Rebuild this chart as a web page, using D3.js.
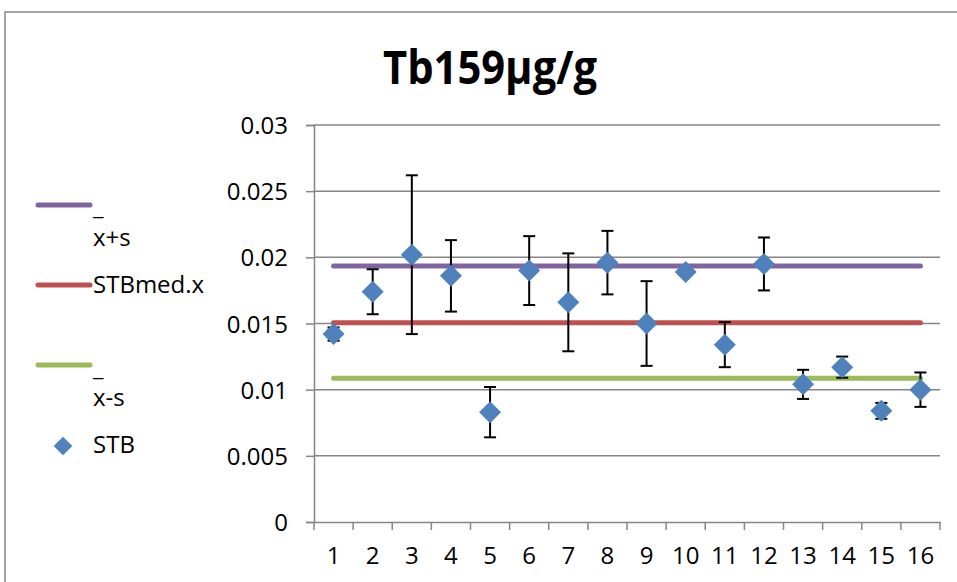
<!DOCTYPE html>
<html>
<head>
<meta charset="utf-8">
<script src="https://cdn.jsdelivr.net/npm/d3@7"></script>
<style>
  html, body { margin: 0; padding: 0; background: #fff; }
  svg { display: block; }
  svg text { font-family: "Liberation Sans Narrow", "Open Sans", "Liberation Sans", sans-serif; }
</style>
</head>
<body>
<svg id="chart" width="957" height="582"></svg>
<script>
// Sample numbers 1..16
const categories = d3.range(1, 17).map(String);
// STB measured values (µg/g) and their standard deviations
const stbValues = [0.0142, 0.0174, 0.0202, 0.0186, 0.0083, 0.0190, 0.0166, 0.0196,
                   0.0150, 0.0189, 0.0134, 0.0195, 0.0104, 0.0117, 0.0084, 0.0100];
const stbErrors = [0.0005, 0.0017, 0.0060, 0.0027, 0.0019, 0.0026, 0.0037, 0.0024,
                   0.0032, 0.0002, 0.0017, 0.0020, 0.0011, 0.0008, 0.0006, 0.0013];
// Reference levels: mean + s, mean, mean - s
const meanPlusS = 0.01935;
const meanValue = 0.01505;
const meanMinusS = 0.01087;
const yTicks = [0, 0.005, 0.01, 0.015, 0.02, 0.025, 0.03];

const svg = d3.select("#chart");
const gridColor = "#868686";
const labelSize = 24;

// chart frame
svg.append("rect")
  .attr("x", 5).attr("y", 12).attr("width", 980).attr("height", 600)
  .attr("fill", "#fff").attr("stroke", gridColor).attr("stroke-width", 1.5);

const plot = { left: 314, right: 940, top: 125, bottom: 522 };

const x = d3.scaleBand().domain(categories).range([plot.left, plot.right]).padding(0);
const y = d3.scaleLinear().domain([0, 0.03]).range([plot.bottom, plot.top]);
const cx = c => x(c) + x.bandwidth() / 2;

// title
svg.append("text")
  .attr("x", 490).attr("y", 84)
  .attr("text-anchor", "middle")
  .attr("font-size", 47).attr("font-weight", "bold")
  .attr("textLength", 214).attr("lengthAdjust", "spacingAndGlyphs")
  .text("Tb159µg/g");

// horizontal gridlines
svg.append("g").selectAll("line").data(yTicks.slice(1)).join("line")
  .attr("x1", plot.left).attr("x2", plot.right)
  .attr("y1", d => y(d)).attr("y2", d => y(d))
  .attr("stroke", gridColor).attr("stroke-width", 1.5);

// y axis
const yAxis = svg.append("g")
  .attr("transform", `translate(${plot.left},0)`)
  .call(d3.axisLeft(y).tickValues(yTicks).tickFormat(d => String(+d.toFixed(3))).tickSize(8).tickPadding(18));
yAxis.select(".domain").attr("stroke", gridColor).attr("stroke-width", 1.5);
yAxis.selectAll(".tick line").attr("stroke", gridColor).attr("stroke-width", 1.5);
yAxis.selectAll(".tick text").attr("font-size", labelSize).attr("fill", "#000").attr("dy", "0.36em");

// x axis with ticks between categories
const xAxis = svg.append("g")
  .attr("transform", `translate(0,${plot.bottom})`)
  .call(d3.axisBottom(x).tickSize(0).tickPadding(33));
xAxis.select(".domain").attr("stroke", gridColor).attr("stroke-width", 1.5);
xAxis.selectAll(".tick text").attr("font-size", labelSize).attr("fill", "#000").attr("dy", "0.36em");
xAxis.selectAll("line.sep").data(d3.range(categories.length + 1)).join("line")
  .attr("class", "sep")
  .attr("x1", i => plot.left + i * x.bandwidth()).attr("x2", i => plot.left + i * x.bandwidth())
  .attr("y1", 0).attr("y2", 8)
  .attr("stroke", gridColor).attr("stroke-width", 1.5);

// reference lines
const refLines = [
  { value: meanPlusS, color: "#8064A2" },
  { value: meanValue, color: "#C0504D" },
  { value: meanMinusS, color: "#9BBB59" }
];
svg.append("g").selectAll("line").data(refLines).join("line")
  .attr("x1", cx(categories[0])).attr("x2", cx(categories[categories.length - 1]))
  .attr("y1", d => y(d.value)).attr("y2", d => y(d.value))
  .attr("stroke", d => d.color).attr("stroke-width", 5).attr("stroke-linecap", "round");

// error bars
const pts = categories.map((c, i) => ({ c, v: stbValues[i], e: stbErrors[i] }));
const eb = svg.append("g").attr("stroke", "#000").attr("stroke-width", 2);
eb.selectAll("line.v").data(pts).join("line").attr("class", "v")
  .attr("x1", d => cx(d.c)).attr("x2", d => cx(d.c))
  .attr("y1", d => y(d.v - d.e)).attr("y2", d => y(d.v + d.e));
eb.selectAll("line.t").data(pts).join("line").attr("class", "t")
  .attr("x1", d => cx(d.c) - 6).attr("x2", d => cx(d.c) + 6)
  .attr("y1", d => y(d.v + d.e)).attr("y2", d => y(d.v + d.e));
eb.selectAll("line.b").data(pts).join("line").attr("class", "b")
  .attr("x1", d => cx(d.c) - 6).attr("x2", d => cx(d.c) + 6)
  .attr("y1", d => y(d.v - d.e)).attr("y2", d => y(d.v - d.e));

// diamond markers
const diamond = "M0,-11L11,0L0,11L-11,0Z";
svg.append("g").selectAll("path").data(pts).join("path")
  .attr("d", diamond)
  .attr("transform", d => `translate(${cx(d.c)},${y(d.v)})`)
  .attr("fill", "#4F81BD");

// legend
const lg = svg.append("g");
const legendLines = [
  { color: "#8064A2", y: 205 },
  { color: "#C0504D", y: 285 },
  { color: "#9BBB59", y: 365 }
];
lg.selectAll("line").data(legendLines).join("line")
  .attr("x1", 38).attr("x2", 90)
  .attr("y1", d => d.y).attr("y2", d => d.y)
  .attr("stroke", d => d.color).attr("stroke-width", 5).attr("stroke-linecap", "round");
const legendTexts = [
  { t: "_", x: 93, y: 215 },
  { t: "x+s", x: 93, y: 246 },
  { t: "STBmed.x", x: 93, y: 293 },
  { t: "_", x: 93, y: 376 },
  { t: "x-s", x: 93, y: 406 },
  { t: "STB", x: 93, y: 453 }
];
lg.selectAll("text").data(legendTexts).join("text")
  .attr("x", d => d.x).attr("y", d => d.y)
  .attr("font-size", labelSize).attr("fill", "#000")
  .text(d => d.t);
lg.append("path").attr("d", diamond)
  .attr("transform", "translate(63,446) scale(0.85)")
  .attr("fill", "#4F81BD");
</script>
</body>
</html>
